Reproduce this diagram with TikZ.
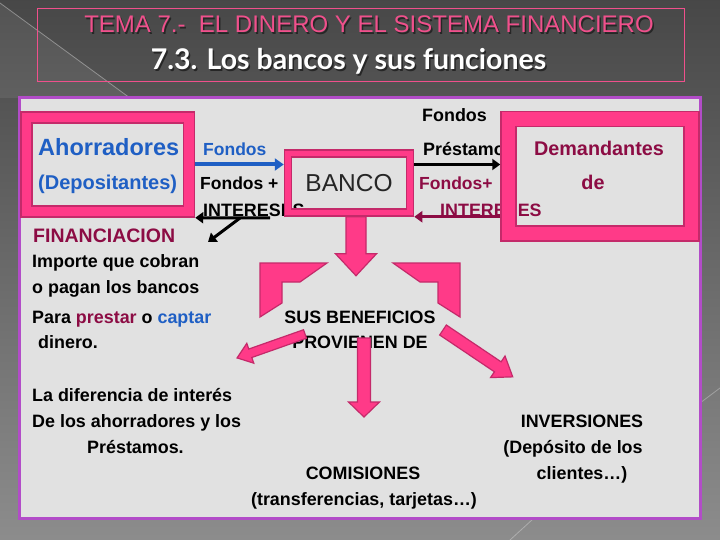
\documentclass[tikz,border=0pt]{standalone}
\usepackage{fontspec}
\setmainfont{Liberation Sans}
\newfontfamily\subfont{Lato}
\usetikzlibrary{arrows.meta}

\definecolor{pinkfr}{HTML}{FF3A88}
\definecolor{pinkdk}{HTML}{C42A6A}
\definecolor{titpink}{HTML}{F0508C}
\definecolor{maroon}{HTML}{8C0C44}
\definecolor{azul}{HTML}{1F5FC4}
\definecolor{panelgr}{HTML}{E1E1E1}
\definecolor{morado}{HTML}{B24CC8}

\newcommand{\fs}[1]{\fontsize{#1}{#1}\selectfont}
% flecha gruesa rosa: origen, angulo, largo, medio cuerpo, media punta, largo punta
\newcommand{\fatarrow}[6]{%
  \draw[pinkarr,shift={#1},rotate=#2] (0,-#4) -- ({#3-#6},-#4) -- ({#3-#6},-#5) -- (#3,0)
    -- ({#3-#6},#5) -- ({#3-#6},#4) -- (0,#4) -- cycle;}

\tikzset{
  txt/.style={inner sep=0pt, font=\bfseries\fs{17.9}},
  frame/.style={draw=pinkdk, line width=1.5pt, double=pinkfr, double distance=#1,
    outer sep={1.5pt+0.5*#1}, inner sep=0pt},
  pinkarr/.style={fill=pinkfr, draw=pinkdk, line width=1.2pt, line join=miter},
  flecha/.style={line width=3pt, -{Triangle[length=8pt,width=11pt]}},
}

\begin{document}
\begin{tikzpicture}[x=1pt,y=-1pt]
  \useasboundingbox (0,0) rectangle (720,540);
  % fondo
  \shade[top color=black!72, bottom color=black!45] (0,0) rectangle (720,540);
  \fill[white,opacity=.07] (0,3) -- (130,98) -- (0,98) -- cycle;
  \draw[white,opacity=.35,line width=.8pt] (0,3) -- (130,98);
  \draw[white,opacity=.3,line width=.8pt] (700,403) -- (720,388);
  \draw[white,opacity=.3,line width=.8pt] (510,540) -- (533,519);

  % titulo
  \draw[titpink,line width=1pt] (37,9) rectangle (684,82);
  \node[font=\fs{24},text=black!85,inner sep=0pt,anchor=base] at (370.5,34.5) {TEMA 7.-\ \ EL DINERO Y EL SISTEMA FINANCIERO};
  \node[font=\fs{24},text=titpink,inner sep=0pt,anchor=base] (tema) at (369,33) {TEMA 7.-\ \ EL DINERO Y EL SISTEMA FINANCIERO};
  \node[font=\subfont\bfseries\fs{28.5},text=black!85,inner sep=0pt,anchor=base] at (350,71.5) {7.3. Los bancos y sus funciones};
  \node[font=\subfont\bfseries\fs{28.5},text=white,inner sep=0pt,anchor=base] (subtit) at (348.5,70) {7.3. Los bancos y sus funciones};

  % panel
  \draw[fill=panelgr,draw=morado,line width=3pt] (19,98) rectangle (700,518);

  % textos tapados por los marcos
  \node[txt,anchor=base west] (intizq) at (203,217) {INTERESES};
  \node[txt,anchor=base west] (prest) at (423,156) {Préstamos};
  \node[txt,anchor=base west,text=maroon] (intder) at (440,217) {INTERESES};

  % marcos
  \node[frame=9.5pt,minimum width=162.5pt,minimum height=94pt] (ahorr) at (107.75,164.5) {};
  \node[frame=5.5pt,minimum width=122pt,minimum height=59pt,font=\fs{24.5},text=black!85] (banco) at (349,183) {BANCO};
  \node[frame=13.5pt,minimum width=183pt,minimum height=114.5pt] (deman) at (600,176.25) {};

  \node[txt,font=\bfseries\fs{23.5},text=azul,anchor=base west] (ahtx) at (38,156) {Ahorradores};
  \node[txt,font=\bfseries\fs{20},text=azul,anchor=base west] (deptx) at (38,190) {(Depositantes)};
  \node[txt,font=\bfseries\fs{19.8},text=maroon,anchor=base] (demtx) at (599,156) {Demandantes};
  \node[txt,font=\bfseries\fs{19.8},text=maroon,anchor=base] (detx) at (593,190) {de};

  % etiquetas de flujos
  \node[txt,font=\bfseries\fs{17.5},text=azul,anchor=base west] (fondaz) at (203,156) {Fondos};
  \node[txt,font=\bfseries\fs{17.5},anchor=base west] (fondmas) at (200,190) {Fondos +};
  \node[txt,anchor=base west] (fondtop) at (422,122) {Fondos};
  \node[txt,font=\bfseries\fs{17.5},anchor=base west,text=maroon] (fondmr) at (419,190) {Fondos+};

  % conectores
  \draw[line width=4pt,azul,-{Triangle[length=9pt,width=12pt]}] (ahorr.east) -- (ahorr.east -| banco.west);
  \draw[flecha] (banco.east |- ahorr.east) -- (deman.west |- ahorr.east);
  \draw[flecha,maroon] (deman.west |- banco.south) -- (banco.south east);
  \coordinate (ini1) at (270,218);
  \coordinate (ini2) at (240,218);
  \coordinate (fin2) at (208,242);
  \draw[flecha] (ini1) -- (ahorr.south east);
  \draw[flecha] (ini2) -- (fin2);

  % texto izquierdo
  \node[txt,font=\bfseries\fs{19.5},text=maroon,anchor=base west] (financ) at (33,242) {FINANCIACION};
  \node[txt,anchor=base west] (imp1) at (32,267) {Importe que cobran};
  \node[txt,anchor=base west] (imp2) at (32,293) {o pagan los bancos};
  \node[txt,anchor=base west] (imp3) at (32,323) {Para \textcolor{maroon}{prestar} o \textcolor{azul}{captar}};
  \node[txt,anchor=base west] (imp4) at (38,348) {dinero.};
  \node[txt,anchor=base west] (dif1) at (32,401) {La diferencia de interés};
  \node[txt,anchor=base west] (dif2) at (32,427) {De los ahorradores y los};
  \node[txt,anchor=base west] (dif3) at (87,453) {Préstamos.};

  % centro
  \node[txt,anchor=base] (benef) at (360,323) {SUS BENEFICIOS};
  \node[txt,anchor=base] (prov) at (360,348) {PROVIENEN DE};
  \node[txt,anchor=base] (comis) at (363,479) {COMISIONES};
  \node[txt,anchor=base] (transf) at (364,505) {(transferencias, tarjetas…)};
  \node[txt,anchor=base] (inver) at (582,427) {INVERSIONES};
  \node[txt,anchor=base] (depos) at (573,453) {(Depósito de los};
  \node[txt,anchor=base] (clien) at (582,479) {clientes…)};

  % flechas rosas
  \fatarrow{([xshift=7pt]banco.south)}{-90}{59}{10}{20.5}{22}
  \draw[pinkarr] (260,263) -- (327,263) -- (300,282) -- (282,282) -- (282,303) -- (260,317) -- cycle;
  \draw[pinkarr] (460,263) -- (393,263) -- (420,282) -- (438,282) -- (438,303) -- (460,317) -- cycle;
  \coordinate (bizq) at (305,334);
  \coordinate (bcen) at (364,338);
  \coordinate (bder) at (443,330);
  \fatarrow{(bizq)}{199.4}{72}{4.5}{10.5}{14}
  \fatarrow{(bcen)}{-90}{79}{6.5}{15.5}{15}
  \fatarrow{(bder)}{-33.9}{84}{6}{13}{18}
\end{tikzpicture}
\end{document}
